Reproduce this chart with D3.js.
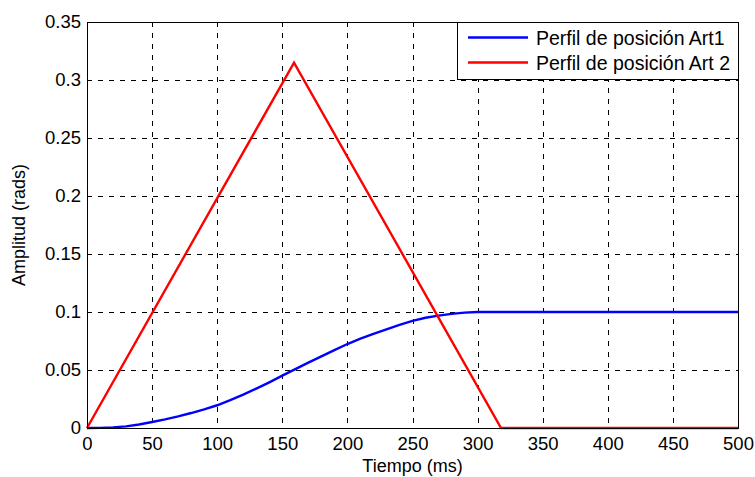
<!DOCTYPE html>
<html lang="es">
  <head>
    <meta charset="utf-8">
    <script src="https://d3js.org/d3.v7.min.js"></script>
    <title>Perfil de posición</title>
    <style>
      body { margin: 0; background: #fff; }
      text { font-family: "Liberation Sans", Arial, sans-serif; fill: #000; }
    </style>
  </head>
  <body>
    <div id="chart"></div>
  <script>

    // tiempo (ms) y amplitud (rads)
    const tiempoArt1 = [0, 10, 20, 30, 40, 50, 60, 70, 80, 90, 100, 110, 120, 130, 140, 150,
      160, 170, 180, 190, 200, 210, 220, 230, 240, 250, 260, 270, 280, 290, 300, 500];
    const posArt1 = [0, 0.0001, 0.0005, 0.0014, 0.0030, 0.0052, 0.0074, 0.0100, 0.0129, 0.0161,
      0.0196, 0.0240, 0.0288, 0.0340, 0.0394, 0.0451, 0.0508, 0.0563, 0.0618, 0.0672,
      0.0724, 0.0770, 0.0812, 0.0851, 0.0889, 0.0924, 0.0950, 0.0969, 0.0984, 0.0995,
      0.1000, 0.1000];

    const tiempoArt2 = [0, 159, 318, 500];
    const posArt2 = [0, 0.315, 0, 0];

    const xTicks = [0, 50, 100, 150, 200, 250, 300, 350, 400, 450, 500];
    const yTicks = [0, 0.05, 0.1, 0.15, 0.2, 0.25, 0.3, 0.35];

    const series = [
      { name: "Perfil de posición Art1", color: "#0000ff", t: tiempoArt1, v: posArt1 },
      { name: "Perfil de posición Art 2", color: "#ff0000", t: tiempoArt2, v: posArt2 }
    ];

    const margin = {top: 22, right: 17, bottom: 49, left: 87},
        width = 755 - margin.left - margin.right,
        height = 477 - margin.top - margin.bottom;

    const svg = d3.select("#chart")
      .append("svg")
        .attr("width", 755)
        .attr("height", 477)
      .append("g")
        .attr("transform", `translate(${margin.left},${margin.top})`);

    const x = d3.scaleLinear().domain([0, 500]).range([0, width]);
    const y = d3.scaleLinear().domain([0, 0.35]).range([height, 0]);

    // rejilla
    svg.append("g")
      .selectAll("line")
      .data(xTicks.slice(1, -1))
      .join("line")
        .attr("x1", d => Math.round(x(d)) + 0.5)
        .attr("x2", d => Math.round(x(d)) + 0.5)
        .attr("y1", 0)
        .attr("y2", height)
        .attr("stroke", "#000")
        .attr("stroke-dasharray", "5,6");

    svg.append("g")
      .selectAll("line")
      .data(yTicks.slice(1, -1))
      .join("line")
        .attr("x1", 0)
        .attr("x2", width)
        .attr("y1", d => Math.round(y(d)) + 0.5)
        .attr("y2", d => Math.round(y(d)) + 0.5)
        .attr("stroke", "#000")
        .attr("stroke-dasharray", "5,6");

    // ejes
    const xAxis = svg.append("g")
      .attr("transform", `translate(0, ${height})`)
      .call(d3.axisBottom(x).tickValues(xTicks).tickSize(0).tickPadding(9).tickFormat(d3.format("d")));
    xAxis.select(".domain").remove();
    xAxis.selectAll("text").style("font-size", "18.5px");

    const yAxis = svg.append("g")
      .call(d3.axisLeft(y).tickValues(yTicks).tickSize(0).tickPadding(6).tickFormat(d => d === 0 ? "0" : String(+d.toFixed(2))));
    yAxis.select(".domain").remove();
    yAxis.selectAll("text").style("font-size", "18.5px");

    // curvas
    const line = d3.line()
      .x(d => x(d[0]))
      .y(d => y(d[1]));

    series.forEach(s => {
      svg.append("path")
        .datum(s.t.map((t, i) => [t, s.v[i]]))
        .attr("fill", "none")
        .attr("stroke", s.color)
        .attr("stroke-width", 2.4)
        .attr("d", line);
    });

    // marco
    svg.append("rect")
      .attr("x", 0.5)
      .attr("y", 0.5)
      .attr("width", width)
      .attr("height", height)
      .attr("fill", "none")
      .attr("stroke", "#000");

    // leyenda
    const legend = svg.append("g")
      .attr("transform", `translate(${width - 281}, 0)`);
    legend.append("rect")
      .attr("x", 0.5)
      .attr("y", 0.5)
      .attr("width", 281)
      .attr("height", 57)
      .attr("fill", "#fff")
      .attr("stroke", "#000");
    series.forEach((s, i) => {
      legend.append("line")
        .attr("x1", 11)
        .attr("x2", 71)
        .attr("y1", 15.5 + i * 25)
        .attr("y2", 15.5 + i * 25)
        .attr("stroke", s.color)
        .attr("stroke-width", 2.4);
      legend.append("text")
        .attr("x", 79)
        .attr("y", 16 + i * 25)
        .attr("dominant-baseline", "central")
        .style("font-size", "19.5px")
        .text(s.name);
    });

    // titulos de ejes
    svg.append("text")
      .attr("x", width / 2)
      .attr("y", height + 44)
      .attr("text-anchor", "middle")
      .style("font-size", "18px")
      .text("Tiempo (ms)");

    svg.append("text")
      .attr("transform", `translate(${25 - margin.left}, ${height / 2}) rotate(-90)`)
      .attr("text-anchor", "middle")
      .style("font-size", "18px")
      .text("Amplitud (rads)");

  </script>
  </body>
</html>
